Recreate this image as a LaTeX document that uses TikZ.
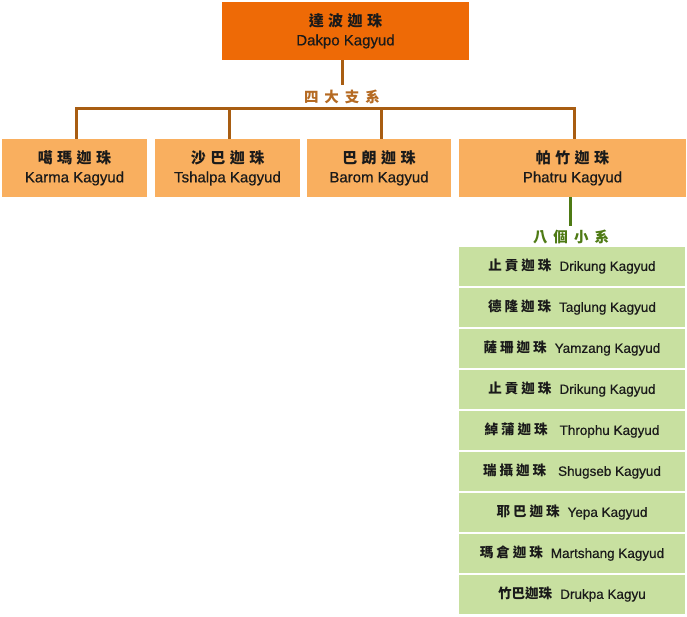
\documentclass[tikz,border=0pt]{standalone}
\usepackage{fontspec}
\setmainfont{Liberation Sans}[FakeBold=0.5]
\newfontfamily\cjk{Noto Sans CJK TC}
\definecolor{topor}{HTML}{EE6A06}
\definecolor{lightor}{HTML}{F9AF5F}
\definecolor{lgreen}{HTML}{C8E0A0}
\definecolor{brownln}{HTML}{A85D12}
\definecolor{brownlab}{HTML}{B56A22}
\definecolor{greenln}{HTML}{4E7A14}
\definecolor{txt}{HTML}{1A1A1A}
\newcommand\ga{\hspace{4.5pt}}
\newcommand\gb{\hspace{3pt}}
\newcommand\zhA{\cjk\bfseries\fontsize{15}{17}\selectfont}
\newcommand\zhB{\cjk\bfseries\fontsize{13.5}{15}\selectfont}
\begin{document}
\begin{tikzpicture}[x=1pt,y=-1pt,
  boxbase/.style={rectangle, inner sep=0pt, text=txt, align=center},
  topbox/.style={boxbase, fill=topor, minimum width=247pt, minimum height=58pt, font=\fontsize{15}{19}\selectfont},
  midbox/.style={boxbase, fill=lightor, minimum height=58pt, font=\fontsize{15}{19}\selectfont},
  subbox/.style={boxbase, fill=lgreen, minimum width=226pt, minimum height=39pt, font=\fontsize{13.5}{16}\selectfont},
  brlabel/.style={inner sep=0pt, text=brownlab, font=\cjk\bfseries\fontsize{14.5}{16}\selectfont},
  grlabel/.style={inner sep=0pt, text=greenln, font=\cjk\bfseries\fontsize{14.5}{16}\selectfont},
  brline/.style={draw=brownln, line width=3pt},
  grline/.style={draw=greenln, line width=3pt}
]
\useasboundingbox (0,0) rectangle (687,617);

\node[topbox] (top) at (345.5,31) {{\zhA 達\ga 波\ga 迦\ga 珠}\\[0pt]Dakpo Kagyud};

\node[brlabel] (lab1) at (342,97) {四\hspace{6pt}大\hspace{6pt}支\hspace{6pt}系};
\coordinate (c1) at (342,85);

\node[midbox, minimum width=145pt] (b1) at (74.5,168) {{\zhA 噶\ga 瑪\ga 迦\ga 珠}\\[0pt]Karma Kagyud};
\node[midbox, minimum width=145pt] (b2) at (227.5,168) {{\zhA 沙\ga 巴\ga 迦\ga 珠}\\[0pt]Tshalpa Kagyud};
\node[midbox, minimum width=144pt] (b3) at (379,168) {{\zhA 巴\ga 朗\ga 迦\ga 珠}\\[0pt]Barom Kagyud};
\node[midbox, minimum width=227pt] (b4) at (572.5,168) {{\zhA 帕\ga 竹\ga 迦\ga 珠}\\[0pt]Phatru Kagyud};

\coordinate (bus) at (0,108.5);
\coordinate (c2) at (0,226);

\draw[brline] (top.south -| c1) -- (c1);
\draw[brline] ([xshift=2pt]b1.north) |- ([xshift=1.5pt]b4.north |- bus) -- ([xshift=1.5pt]b4.north);
\draw[brline] ([xshift=1.5pt]b2.north) -- ([xshift=1.5pt]b2.north |- bus);
\draw[brline] ([xshift=2pt]b3.north) -- ([xshift=2pt]b3.north |- bus);

\node[grlabel] (lab2) at (571,237) {八\hspace{6pt}個\hspace{6pt}小\hspace{6pt}系};
\draw[grline] ([xshift=-2pt]b4.south) -- ([xshift=-2pt]b4.south |- c2);

\node[subbox] (s1) at (572,266.5) {{\zhB 止\gb 貢\gb 迦\gb 珠}\hspace{8pt}Drikung Kagyud};
\node[subbox] (s2) at (572,307.5) {{\zhB 德\gb 隆\gb 迦\gb 珠}\hspace{8pt}Taglung Kagyud};
\node[subbox] (s3) at (572,348.5) {{\zhB 薩\gb 珊\gb 迦\gb 珠}\hspace{8pt}Yamzang Kagyud};
\node[subbox] (s4) at (572,389.5) {{\zhB 止\gb 貢\gb 迦\gb 珠}\hspace{8pt}Drikung Kagyud};
\node[subbox] (s5) at (572,430.5) {{\zhB 綽\gb 蒲\gb 迦\gb 珠}\hspace{12pt}Throphu Kagyud};
\node[subbox] (s6) at (572,471.5) {{\zhB 瑞\gb 攝\gb 迦\gb 珠}\hspace{12pt}Shugseb Kagyud};
\node[subbox] (s7) at (572,512.5) {{\zhB 耶\gb 巴\gb 迦\gb 珠}\hspace{8pt}Yepa Kagyud};
\node[subbox] (s8) at (572,553.5) {{\zhB 瑪\gb 倉\gb 迦\gb 珠}\hspace{8pt}Martshang Kagyud};
\node[subbox] (s9) at (572,594.5) {{\zhB 竹巴迦珠}\hspace{8pt}Drukpa Kagyu};
\end{tikzpicture}
\end{document}
